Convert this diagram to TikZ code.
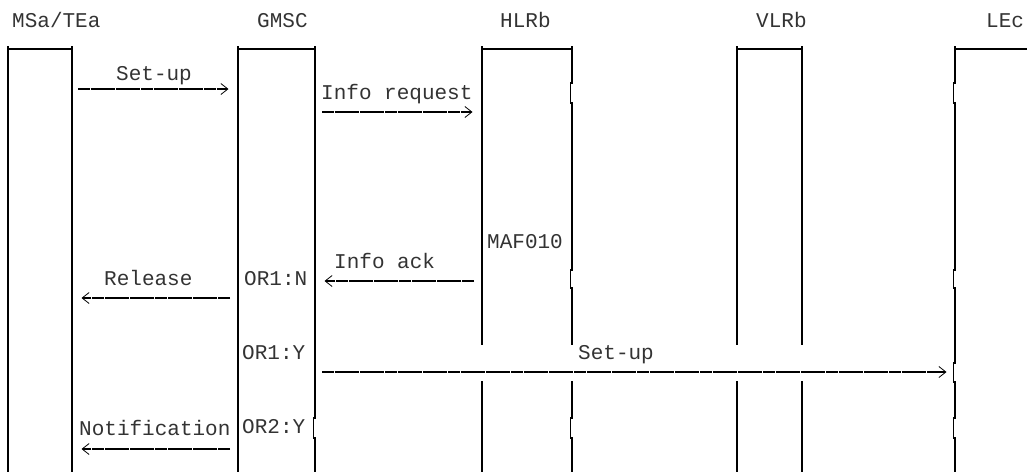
\documentclass[tikz,border=0pt]{standalone}
\usepackage{fontspec}
\setmonofont{Liberation Mono}
\usetikzlibrary{arrows.meta}
\begin{document}
\begin{tikzpicture}[x=1pt,y=-1pt,
  lbl/.style={anchor=base west,inner sep=0pt,font=\fontsize{21}{25}\selectfont\ttfamily,text=black!80},
  life/.style={line width=1.1pt},
  msg/.style={line width=1.1pt,dash pattern=on 12pt off 0.6pt,-{Straight Barb[length=7pt,width=11pt,line width=0.8pt,sep=1.5pt]}}]
\useasboundingbox (0,0) rectangle (1027,472);
% headers
\node[lbl] (hMS) at (12,27) {MSa/TEa};
\node[lbl] (hGM) at (257,27) {GMSC};
\node[lbl] (hHL) at (500,27) {HLRb};
\node[lbl] (hVL) at (756,27) {VLRb};
\node[lbl] (hLE) at (986,27) {LEc};
% top bars
\draw[life] (8,49) -- (72,49);
\draw[life] (238,49) -- (315,49);
\draw[life] (482,49) -- (572,49);
\draw[life] (737,49) -- (802,49);
\draw[life] (955,49) -- (1027,49);
% lifelines
\draw[life] (8,46) -- (8,472);
\draw[life] (72,46) -- (72,472);
\draw[life] (238,46) -- (238,472);
\draw[life] (315,46) -- (315,418) -- (313.5,418) -- (313.5,438) -- (315,438) -- (315,472);
\draw[life] (482,46) -- (482,345);
\draw[life] (482,381) -- (482,472);
\draw[life] (572,46) -- (572,83) -- (570.5,83) -- (570.5,103) -- (572,103) -- (572,270) -- (570.5,270) -- (570.5,288) -- (572,288) -- (572,345);
\draw[life] (572,381) -- (572,418) -- (570.5,418) -- (570.5,438) -- (572,438) -- (572,472);
\draw[life] (737,46) -- (737,345);
\draw[life] (737,381) -- (737,472);
\draw[life] (802,46) -- (802,345);
\draw[life] (802,381) -- (802,472);
\draw[life] (955,46) -- (955,83) -- (953.5,83) -- (953.5,103) -- (955,103) -- (955,270) -- (953.5,270) -- (953.5,288) -- (955,288) -- (955,363) -- (953.5,363) -- (953.5,382) -- (955,382) -- (955,418) -- (953.5,418) -- (953.5,438) -- (955,438) -- (955,472);
% labels
\node[lbl] (tSetup) at (116,80) {Set-up};
\node[lbl] (tInfoReq) at (321,99) {Info request};
\node[lbl] (tMAF) at (487,248) {MAF010};
\node[lbl] (tInfoAck) at (334,268) {Info ack};
\node[lbl] (tRel) at (104,285) {Release};
\node[lbl] (tOR1N) at (244,285) {OR1:N};
\node[lbl] (tOR1Y) at (242,359) {OR1:Y};
\node[lbl] (tSetup2) at (578,359) {Set-up};
\node[lbl] (tOR2Y) at (242,433) {OR2:Y};
\node[lbl] (tNotif) at (79,435) {Notification};
% arrow end points
\coordinate (a1s) at (78,89);   \coordinate (a1e) at (230,89);
\coordinate (a2s) at (322,112); \coordinate (a2e) at (474,112);
\coordinate (a3s) at (474,281); \coordinate (a3e) at (323,281);
\coordinate (a4s) at (230,298); \coordinate (a4e) at (80,298);
\coordinate (a5s) at (322,372); \coordinate (a5e) at (948,372);
\coordinate (a6s) at (230,449); \coordinate (a6e) at (80,449);
\draw[msg] (a1s) -- (a1e);
\draw[msg] (a2s) -- (a2e);
\draw[msg] (a3s) -- (a3e);
\draw[msg] (a4s) -- (a4e);
\draw[msg] (a5s) -- (a5e);
\draw[msg] (a6s) -- (a6e);
\end{tikzpicture}
\end{document}
